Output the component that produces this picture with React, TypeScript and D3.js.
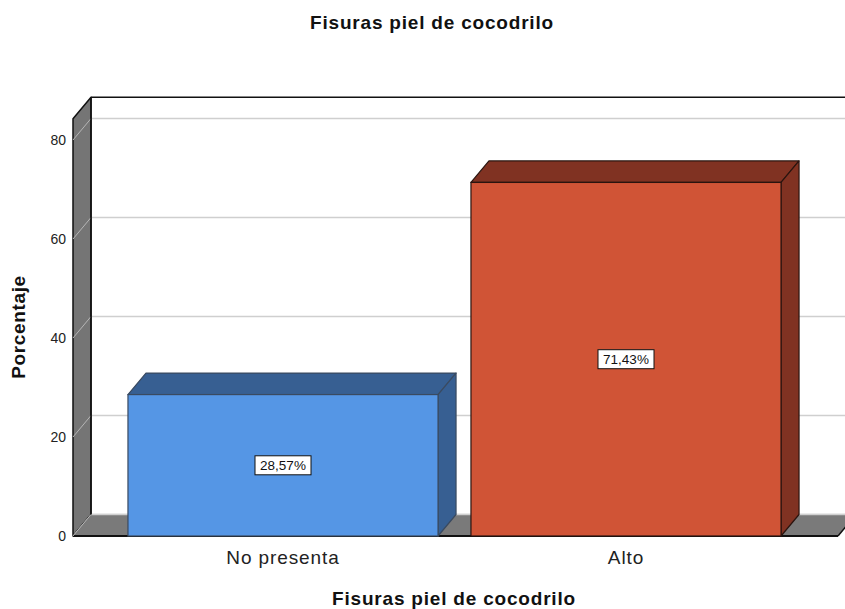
import React from "react";
import * as d3 from "d3";

// Chart data
const categories = ["No presenta", "Alto"];
const percentages = [28.57, 71.43];
const valueLabels = ["28,57%", "71,43%"];
const yTicks = [0, 20, 40, 60, 80];
const wallMax = 84.3;

const frontColors = ["#5596e5", "#d05436"];
const sideColors = ["#375f92", "#803222"];

const W = 845;
const H = 609;

// 3D depth offset of the back plane
const DX = 18;
const DY = -21.5;

const FONT = "'Liberation Sans', Arial, sans-serif";

export default function App() {
  const x0 = 73;
  const x1 = 838;

  const y = d3.scaleLinear().domain([0, 80]).range([536, 140]);
  const x = d3
    .scaleBand<string>()
    .domain(categories)
    .range([111.5, 797.5])
    .paddingInner(0.096)
    .paddingOuter(0.048);

  const yTop = y(wallMax);
  const y0 = y(0);

  const poly = (pts: [number, number][]) => pts.map((p) => p.join(",")).join(" ");

  return (
    <svg
      width={W}
      height={H}
      style={{ position: "absolute", left: 0, top: 0, background: "#fff" }}
    >
      {/* title */}
      <text
        x={432}
        y={29}
        textAnchor="middle"
        fontFamily={FONT}
        fontWeight="bold"
        fontSize={19}
        letterSpacing={0.8}
        fill="#111"
      >
        Fisuras piel de cocodrilo
      </text>

      {/* back wall */}
      <rect x={x0 + DX} y={yTop + DY} width={x1 - x0} height={y0 - yTop} fill="#fff" />
      {yTicks.map((t) => (
        <line
          key={"g" + t}
          x1={x0 + DX}
          x2={x1 + DX + 20}
          y1={y(t) + DY}
          y2={y(t) + DY}
          stroke="#cfcfcf"
          strokeWidth={1.5}
        />
      ))}
      <line x1={x0 + DX} x2={x1 + DX + 20} y1={yTop + DY} y2={yTop + DY} stroke="#111" strokeWidth={1.5} />

      {/* left side wall */}
      <polygon
        points={poly([
          [x0, yTop],
          [x0 + DX, yTop + DY],
          [x0 + DX, y0 + DY],
          [x0, y0],
        ])}
        fill="#757575"
        stroke="#111"
        strokeWidth={1.5}
        strokeLinejoin="round"
      />
      {yTicks.map((t) => (
        <line
          key={"s" + t}
          x1={x0}
          y1={y(t)}
          x2={x0 + DX}
          y2={y(t) + DY}
          stroke="#b5b5b5"
          strokeWidth={1}
        />
      ))}

      {/* floor */}
      <polygon
        points={poly([
          [x0, y0],
          [x0 + DX, y0 + DY],
          [x1 + DX, y0 + DY],
          [x1, y0],
        ])}
        fill="#7a7a7a"
      />
      <line x1={x0 + DX} x2={x1 + DX} y1={y0 + DY} y2={y0 + DY} stroke="#d0d0d0" strokeWidth={1.5} />
      <line x1={x0} x2={x1} y1={y0} y2={y0} stroke="#111" strokeWidth={2} />
      <line x1={x1} x2={x1 + DX} y1={y0} y2={y0 + DY} stroke="#111" strokeWidth={1.5} />
      <line x1={x0} x2={x0 + DX} y1={y0} y2={y0 + DY} stroke="#b5b5b5" strokeWidth={1} />
      <line x1={x0 + DX} x2={x0 + DX} y1={yTop + DY} y2={y0 + DY} stroke="#111" strokeWidth={1.5} />

      {/* y tick labels */}
      {yTicks.map((t) => (
        <text
          key={"t" + t}
          x={66}
          y={y(t) + 5}
          textAnchor="end"
          fontFamily={FONT}
          fontSize={14}
          fill="#222"
        >
          {t}
        </text>
      ))}

      {/* bars */}
      {categories.map((c, i) => {
        const bx = x(c)!;
        const bw = x.bandwidth();
        const by = y(percentages[i]);
        const stroke = i === 0 ? "#3a4a60" : "#2a140f";
        return (
          <g key={c}>
            {/* top face */}
            <polygon
              points={poly([
                [bx, by],
                [bx + DX, by + DY],
                [bx + bw + DX, by + DY],
                [bx + bw, by],
              ])}
              fill={sideColors[i]}
              stroke={stroke}
              strokeWidth={1.2}
              strokeLinejoin="round"
            />
            {/* right face */}
            <polygon
              points={poly([
                [bx + bw, by],
                [bx + bw + DX, by + DY],
                [bx + bw + DX, y0 + DY],
                [bx + bw, y0],
              ])}
              fill={sideColors[i]}
              stroke={stroke}
              strokeWidth={1.2}
              strokeLinejoin="round"
            />
            {/* front face */}
            <rect
              x={bx}
              y={by}
              width={bw}
              height={y0 - by}
              fill={frontColors[i]}
              stroke={stroke}
              strokeWidth={1.2}
            />
            {/* value label */}
            <rect
              x={bx + bw / 2 - 28}
              y={(by + y0) / 2 - 9.5}
              width={56}
              height={19}
              fill="#fff"
              stroke="#111"
              strokeWidth={1}
            />
            <text
              x={bx + bw / 2}
              y={(by + y0) / 2 + 5}
              textAnchor="middle"
              fontFamily={FONT}
              fontSize={13.5}
              fill="#111"
            >
              {valueLabels[i]}
            </text>
          </g>
        );
      })}

      {/* category labels */}
      {categories.map((c) => (
        <text
          key={"c" + c}
          x={x(c)! + x.bandwidth() / 2}
          y={564}
          textAnchor="middle"
          fontFamily={FONT}
          fontSize={19}
          letterSpacing={0.9}
          fill="#222"
        >
          {c}
        </text>
      ))}

      {/* axis titles */}
      <text
        x={454}
        y={605}
        textAnchor="middle"
        fontFamily={FONT}
        fontWeight="bold"
        fontSize={19}
        letterSpacing={0.8}
        fill="#111"
      >
        Fisuras piel de cocodrilo
      </text>
      <text
        transform="translate(25,327) rotate(-90)"
        textAnchor="middle"
        fontFamily={FONT}
        fontWeight="bold"
        fontSize={19}
        letterSpacing={0.65}
        fill="#111"
      >
        Porcentaje
      </text>
    </svg>
  );
}
